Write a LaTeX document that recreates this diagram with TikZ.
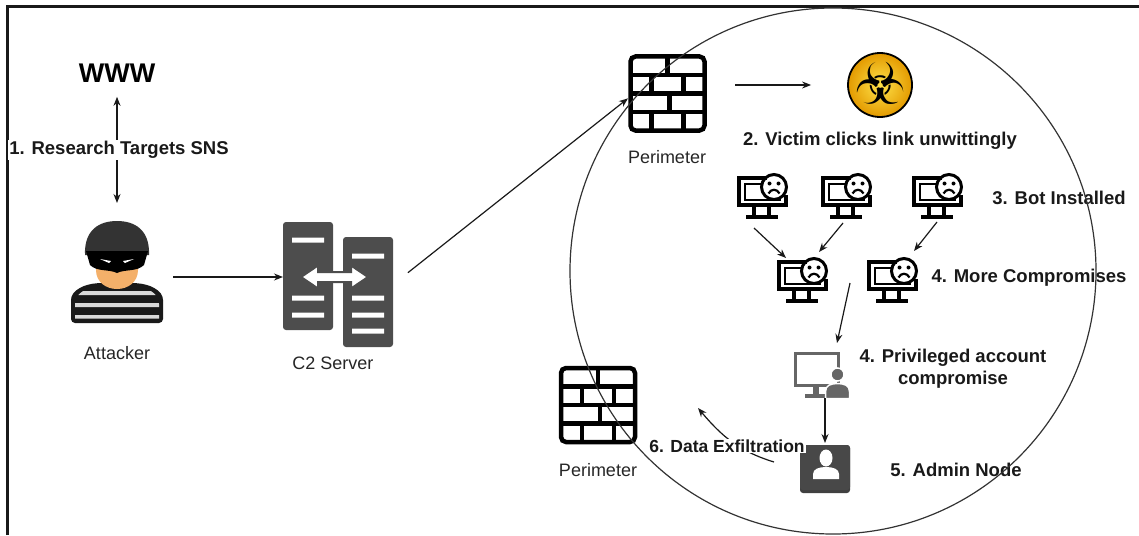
\documentclass[tikz,border=0pt]{standalone}
\usepackage{fontspec}
\setmainfont{Liberation Sans}
\newfontfamily\symfont{DejaVu Sans}
\usetikzlibrary{arrows.meta,positioning,calc}

\definecolor{srvgray}{HTML}{4D4D4D}
\definecolor{icongray}{HTML}{666666}
\definecolor{admgray}{HTML}{484848}
\definecolor{bioyellow}{HTML}{FFE24A}
\definecolor{bioorange}{HTML}{E39A00}
\definecolor{skin}{HTML}{F4B06A}

% icons, drawn in pixel units around their centre (y grows downwards)
\tikzset{
  brickwall/.pic={
    \draw[line width=4.5pt, rounded corners=5pt] (-37,-37) rectangle (37,37);
    \draw[line width=4.5pt] (-37,-18.5) -- (37,-18.5) (-37,0) -- (37,0) (-37,18.5) -- (37,18.5)
      (0,-37) -- (0,-18.5) (-16,-18.5) -- (-16,0) (16,-18.5) -- (16,0)
      (2,0) -- (2,18.5) (-16,18.5) -- (-16,37) (16,18.5) -- (16,37);
  },
  sadscreen/.pic={
    \draw[line width=3.2pt] (5,-19) -- (-23,-19) -- (-23,8) -- (24,8) -- (24,-2);
    \draw[line width=2.8pt] (0,-13) -- (-17,-13) -- (-17,3) -- (18,3) -- (18,1);
    \draw[line width=3pt] (12,-10) circle (12.5pt);
    \fill (7.5,-13.5) circle (2pt) (16.5,-13.5) circle (2pt);
    \draw[line width=2.2pt] (6.5,-3.5) .. controls (9,-8.5) and (15,-8.5) .. (17.5,-3.5);
    \draw[line width=3.2pt] (-8,8) -- (-8,19) (7,8) -- (7,19) (-16,20) -- (16,20);
  },
  userscreen/.pic={
    \draw[icongray, line width=3.2pt] (-27,-22) rectangle (16,10);
    \fill[icongray] (-10,10) rectangle (-4,19);
    \fill[icongray] (-18,18) rectangle (2,22);
    \fill[icongray, draw=white, line width=1.5pt] (3,23) -- (3,16) .. controls (3,10) and (8,8) .. (15,8)
      .. controls (22,8) and (27,10) .. (27,16) -- (27,23) -- cycle;
    \fill[icongray, draw=white, line width=1.5pt] (15,-1) circle (6.5pt);
  },
  userbadge/.pic={
    \fill[black!75, rounded corners=3pt] (-25,-24) rectangle (25,24);
    \fill[admgray, rounded corners=3pt] (-25,-24) rectangle (25,21);
    \fill[white] (1,-11) ellipse (6.5pt and 8.5pt);
    \fill[white] (-12,10) -- (-12,5) .. controls (-12,0) and (-6,-2) .. (1,-2)
      .. controls (8,-2) and (14,0) .. (14,5) -- (14,10) -- cycle;
  },
  serverpair/.pic={
    \fill[srvgray, rounded corners=3pt] (-55,-62.5) rectangle (-5,45.5);
    \fill[srvgray, rounded corners=3pt] (5,-47.5) rectangle (55,62.5);
    \fill[white] (-46,-47) rectangle (-14,-42) (-46,11) rectangle (-14,16) (-46,28) rectangle (-14,33);
    \fill[white] (14,-31) rectangle (46,-26) (14,11) rectangle (46,16) (14,28) rectangle (46,33) (14,44) rectangle (46,49);
    \filldraw[fill=white, draw=srvgray, line width=2pt] (-37,-7.5) -- (-20,-19) -- (-20,-12.5) -- (13,-12.5)
      -- (13,-19) -- (30,-7.5) -- (13,4) -- (13,-2.5) -- (-20,-2.5) -- (-20,4) -- cycle;
  },
  burglar/.pic={
    % striped shirt
    \fill[black!90, rounded corners=4pt] (-46,51) -- (-46,32) .. controls (-46,18) and (-32,12) .. (-16,11)
      -- (16,11) .. controls (32,12) and (46,18) .. (46,32) -- (46,51) -- cycle;
    \begin{scope}
      \clip (-42,49) -- (-42,32) .. controls (-42,21) and (-30,15) .. (-16,14) -- (16,14)
        .. controls (30,15) and (42,21) .. (42,32) -- (42,49) -- cycle;
      \fill[white!85!black] (-50,19) rectangle (50,23) (-50,31) rectangle (50,35) (-50,43) rectangle (50,46.5);
    \end{scope}
    % face
    \fill[skin] (-21,-20) -- (21,-20) -- (21,-2) .. controls (21,10) and (11,17) .. (0,17)
      .. controls (-11,17) and (-21,10) .. (-21,-2) -- cycle;
    % cap
    \fill[black!80] (-32,-17) .. controls (-33,-42) and (-18,-51) .. (0,-51)
      .. controls (18,-51) and (33,-42) .. (32,-17) -- cycle;
    % mask
    \fill[black] (-31,-21) -- (31,-21) -- (27,-7) .. controls (20,0) and (8,-3) .. (0,1)
      .. controls (-8,-3) and (-20,0) .. (-27,-7) -- cycle;
    \fill[white] (-17,-13) -- (-6,-11) -- (-8,-9) -- cycle;
    \fill[white] (17,-13) -- (6,-11) -- (8,-9) -- cycle;
  }
}

\begin{document}
\begin{tikzpicture}[x=1pt, y=-1pt,
    >={Stealth[length=9pt,width=7pt]},
    every node/.style={font=\fontsize{18}{21}\selectfont, text=black!85},
    caption/.style={},
    stage/.style={font=\bfseries\fontsize{18.5}{22}\selectfont, text=black!90, align=center},
    iconbox/.style={rectangle, inner sep=0pt, outer sep=0pt},
    flow/.style={line width=1.2pt, black!90},
    biohaz/.style={circle, draw=black, line width=1.8pt, minimum size=64pt, inner sep=0pt,
      inner color=bioyellow, outer color=bioorange,
      path picture={\node[text=black, font=\symfont\fontsize{58}{58}\selectfont]
        at ([yshift=2pt]path picture bounding box.center) {☣};}}]
  \useasboundingbox (0,0) rectangle (1139,535);
  \draw[line width=3pt, black!90] (7.5,535) -- (7.5,6.5) -- (1139,6.5);

  % outside
  \node[font=\bfseries\fontsize{27}{30}\selectfont, text=black] (www) at (117,73) {WWW};
  \node[iconbox, minimum width=96pt, minimum height=112pt] (attacker) at (117,277) {};
  \pic at ([yshift=5pt]attacker) {burglar};
  \node[caption] (attackertxt) at (117,353) {Attacker};
  \node[iconbox, minimum width=110pt, minimum height=125pt] (c2) at (338,284.5) {};
  \pic at (c2) {serverpair};
  \node[caption] (c2txt) at (333,363) {C2 Server};

  % inside the network
  \node[iconbox, minimum width=79pt, minimum height=77pt] (fw1) at (667.5,93.5) {};
  \pic at (fw1) {brickwall};
  \node[caption] (fw1txt) at (667,157) {Perimeter};
  \node[biohaz] (bio) at (880,85) {};
  \node[stage] (victim) at (880,141) {2. Victim clicks link unwittingly};

  \foreach \name/\x/\y in {m1/762/197, m2/846/197, m3/937/197, m4/802/281, m5/892/281} {
    \node[iconbox, minimum width=50pt, minimum height=48pt] (\name) at (\x,\y) {};
    \pic at (\name) {sadscreen};
  }
  \node[stage] (bots) at (1059,198) {3. Bot Installed};
  \node[stage] (more) at (1029,278) {4. More Compromises};

  \node[iconbox, minimum width=55pt, minimum height=45pt] (priv) at (822.5,375.5) {};
  \pic at (priv) {userscreen};
  \node[stage] (privtxt) at (953,369) {4. Privileged account\\compromise};
  \node[iconbox, minimum width=50pt, minimum height=48pt] (admin) at (825,469) {};
  \pic at (admin) {userbadge};
  \node[stage] (admintxt) at (956,470) {5. Admin Node};

  \node[iconbox, minimum width=77pt, minimum height=79pt] (fw2) at (598,405) {};
  \pic at (fw2) {brickwall};
  \node[caption] (fw2txt) at (598,470) {Perimeter};

  % connectors
  \draw[flow, <->, shorten <=11pt, shorten >=18pt] (www) -- (attacker);
  \node[stage, fill=white, inner sep=1pt] (research) at (119,150) {1. Research Targets SNS};
  \draw[flow, ->, shorten <=8pt] (attacker.east) -- (attacker.east -| c2.west);
  \draw[flow, ->, shorten <=19pt] (c2.east) -- (fw1.187);
  \draw[flow, ->, shorten <=28pt, shorten >=36pt] (fw1.east |- bio) -- (bio.west);
  \draw[flow, ->] ([xshift=-8pt,yshift=-7pt]m1.south) -- ([xshift=-16pt,yshift=-1pt]m4.north);
  \draw[flow, ->] ([xshift=-3pt,yshift=-2pt]m2.south) -- ([xshift=17pt,yshift=5pt]m4.north);
  \draw[flow, ->] ([yshift=-1pt]m3.south) -- ([xshift=22pt,yshift=6pt]m5.north);
  \draw[flow, ->] ([xshift=-17pt,yshift=-2pt]m5.west) -- ([xshift=14.5pt,yshift=10pt]priv.north);
  \draw[flow, ->, shorten >=2pt] (priv.south -| admin.north) -- (admin.north);
  \coordinate (exfilend) at (698,408);
  \draw[flow, ->] ([xshift=-26pt,yshift=7pt]admin.west) to[out=163, in=-50] (exfilend);
  \node[stage, font=\bfseries\fontsize{17.5}{21}\selectfont, fill=white, inner sep=1pt] (exfiltxt) at (727,446) {6. Data Exfiltration};

  % network boundary
  \draw[line width=1.2pt, black!80] (833,271) circle (263pt);
\end{tikzpicture}
\end{document}
